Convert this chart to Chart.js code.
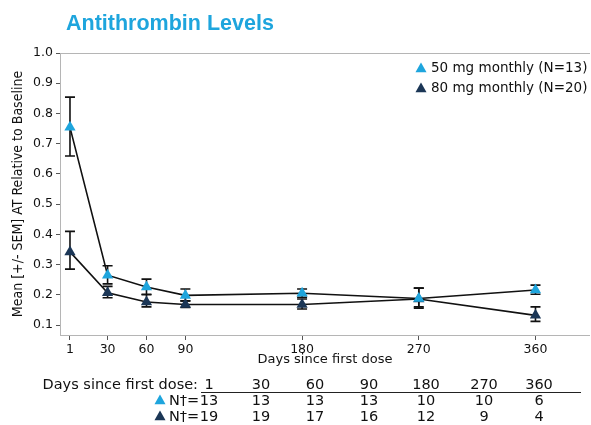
<!DOCTYPE html>
<html>
<head>
<meta charset="utf-8">
<script src="https://cdn.jsdelivr.net/npm/chart.js@4.4.0/dist/chart.umd.min.js"></script>
<style>
  html, body { margin: 0; padding: 0; background: #fff; }
  #wrap { width: 591px; height: 425px; position: relative; }
</style>
</head>
<body>
<div id="wrap"><canvas id="atChart" width="591" height="425"></canvas></div>
<script>
// days on the x axis
const days = [1, 30, 60, 90, 180, 270, 360]
// 50 mg monthly (N=13)
const mean50 = [0.754, 0.265, 0.226, 0.198, 0.205, 0.188, 0.216]
const low50  = [0.659, 0.236, 0.200, 0.180, 0.192, 0.160, 0.202]
const high50 = [0.854, 0.296, 0.252, 0.219, 0.219, 0.222, 0.232]
// 80 mg monthly (N=20)
const mean80 = [0.342, 0.207, 0.176, 0.168, 0.168, 0.186, 0.132]
const low80  = [0.285, 0.190, 0.160, 0.158, 0.153, 0.156, 0.112]
const high80 = [0.410, 0.228, 0.202, 0.180, 0.186, 0.222, 0.160]
// table under the chart
const tableDays = ['1', '30', '60', '90', '180', '270', '360']
const n50 = ['13', '13', '13', '13', '10', '10', '6']
const n80 = ['19', '19', '17', '16', '12', '9', '4']
const yTicks = [0.1, 0.2, 0.3, 0.4, 0.5, 0.6, 0.7, 0.8, 0.9, 1.0]

const light = '#1ea5dd'
const dark = '#1b3656'
const font = '"DejaVu Sans", sans-serif'

function triangle(ctx, x, y, s, color) {
    ctx.save()
    ctx.fillStyle = color
    ctx.beginPath()
    ctx.moveTo(x, y - s)
    ctx.lineTo(x + s, y + s * 0.75)
    ctx.lineTo(x - s, y + s * 0.75)
    ctx.closePath()
    ctx.fill()
    ctx.restore()
}

const errorBars = {
    id: 'errorBars',
    beforeDatasetsDraw(chart) {
        const ctx = chart.ctx
        const xs = chart.scales.x, ys = chart.scales.y
        ctx.save()
        ctx.strokeStyle = '#111'
        ctx.lineWidth = 1.6
        const sets = [[low50, high50], [low80, high80]]
        sets.forEach(([lo, hi]) => {
            days.forEach((d, i) => {
                const x = xs.getPixelForValue(d)
                const y1 = ys.getPixelForValue(lo[i])
                const y2 = ys.getPixelForValue(hi[i])
                ctx.beginPath()
                ctx.moveTo(x, y1); ctx.lineTo(x, y2)
                ctx.moveTo(x - 5, y1); ctx.lineTo(x + 5, y1)
                ctx.moveTo(x - 5, y2); ctx.lineTo(x + 5, y2)
                ctx.stroke()
            })
        })
        ctx.restore()
    }
}

const extras = {
    id: 'extras',
    afterDraw(chart) {
        const ctx = chart.ctx
        const a = chart.chartArea
        ctx.save()
        // top frame line and bottom axis line, both running to the right edge
        ctx.strokeStyle = '#b5b5b5'
        ctx.lineWidth = 1
        ctx.beginPath()
        ctx.moveTo(a.left, a.top + 0.5); ctx.lineTo(590, a.top + 0.5)
        ctx.moveTo(a.left, a.bottom + 0.5); ctx.lineTo(590, a.bottom + 0.5)
        ctx.stroke()

        // title
        ctx.fillStyle = light
        ctx.font = 'bold 21.5px "Liberation Sans", Arial, sans-serif'
        ctx.textBaseline = 'alphabetic'
        ctx.textAlign = 'left'
        ctx.fillText('Antithrombin Levels', 66, 30)

        // x axis title
        ctx.fillStyle = '#111'
        ctx.font = '13px ' + font
        ctx.textAlign = 'center'
        ctx.textBaseline = 'middle'
        ctx.fillText('Days since first dose', 325, 360)

        // legend
        ctx.font = '13.5px ' + font
        ctx.textAlign = 'left'
        triangle(ctx, 421, 68, 5.5, light)
        ctx.fillStyle = '#111'
        ctx.fillText('50 mg monthly (N=13)', 431, 68)
        triangle(ctx, 421, 88, 5.5, dark)
        ctx.fillStyle = '#111'
        ctx.fillText('80 mg monthly (N=20)', 431, 88)

        // table
        const colX = [209, 261, 315, 369, 426, 484, 539]
        ctx.font = '14.5px ' + font
        ctx.fillStyle = '#111'
        ctx.textAlign = 'right'
        ctx.fillText('Days since first dose:', 198, 385)
        ctx.textAlign = 'center'
        tableDays.forEach((t, i) => ctx.fillText(t, colX[i], 385))
        ctx.strokeStyle = '#222'
        ctx.lineWidth = 1
        ctx.beginPath()
        ctx.moveTo(201, 392.5); ctx.lineTo(581, 392.5)
        ctx.stroke()
        triangle(ctx, 160, 400, 5.5, light)
        triangle(ctx, 160, 416, 5.5, dark)
        ctx.fillStyle = '#111'
        ctx.textAlign = 'left'
        ctx.fillText('N\u2020=', 169, 401)
        ctx.fillText('N\u2020=', 169, 417)
        ctx.textAlign = 'center'
        n50.forEach((t, i) => ctx.fillText(t, colX[i], 401))
        n80.forEach((t, i) => ctx.fillText(t, colX[i], 417))
        ctx.restore()
    }
}

const ctx = document.getElementById('atChart').getContext('2d')
const atChart = new Chart(ctx, {
    type: 'line',
    data: {
        datasets: [
            {
                label: '50 mg monthly (N=13)',
                data: days.map((d, i) => ({x: d, y: mean50[i]})),
                borderColor: '#111',
                borderWidth: 1.6,
                pointStyle: 'triangle',
                pointRadius: 6.5,
                pointBackgroundColor: light,
                pointBorderColor: light,
                pointBorderWidth: 0,
                tension: 0
            },
            {
                label: '80 mg monthly (N=20)',
                data: days.map((d, i) => ({x: d, y: mean80[i]})),
                borderColor: '#111',
                borderWidth: 1.6,
                pointStyle: 'triangle',
                pointRadius: 6.5,
                pointBackgroundColor: dark,
                pointBorderColor: dark,
                pointBorderWidth: 0,
                tension: 0
            }
        ]
    },
    options: {
        responsive: false,
        animation: false,
        layout: { padding: { top: 53, right: 0, left: 10, bottom: 0 } },
        plugins: { legend: { display: false }, tooltip: { enabled: false } },
        scales: {
            x: {
                type: 'linear',
                min: -6.7,
                max: 397.8,
                afterBuildTicks: s => { s.ticks = days.map(v => ({value: v})) },
                afterFit: s => { s.height = 90 },
                grid: { drawOnChartArea: false, tickLength: 5, color: '#555', tickWidth: 1 },
                border: { display: false },
                ticks: { color: '#111', font: { family: font, size: 12.5 }, padding: 2, maxRotation: 0, autoSkip: false }
            },
            y: {
                min: 0.067,
                max: 1.0,
                afterBuildTicks: s => { s.ticks = yTicks.map(v => ({value: v})) },
                afterFit: s => { s.width = 50 },
                grid: { drawOnChartArea: false, tickLength: 4, color: '#555' },
                border: { color: '#b5b5b5', width: 1 },
                ticks: { color: '#111', font: { family: font, size: 12.5 }, padding: 3,
                         callback: v => v.toFixed(1) },
                title: { display: true, text: 'Mean [+/- SEM] AT Relative to Baseline', color: '#111',
                         font: { family: '"DejaVu Sans Condensed", "Liberation Sans Narrow", sans-serif', size: 14 }, padding: 0 }
            }
        }
    },
    plugins: [errorBars, extras]
})
</script>
</body>
</html>
